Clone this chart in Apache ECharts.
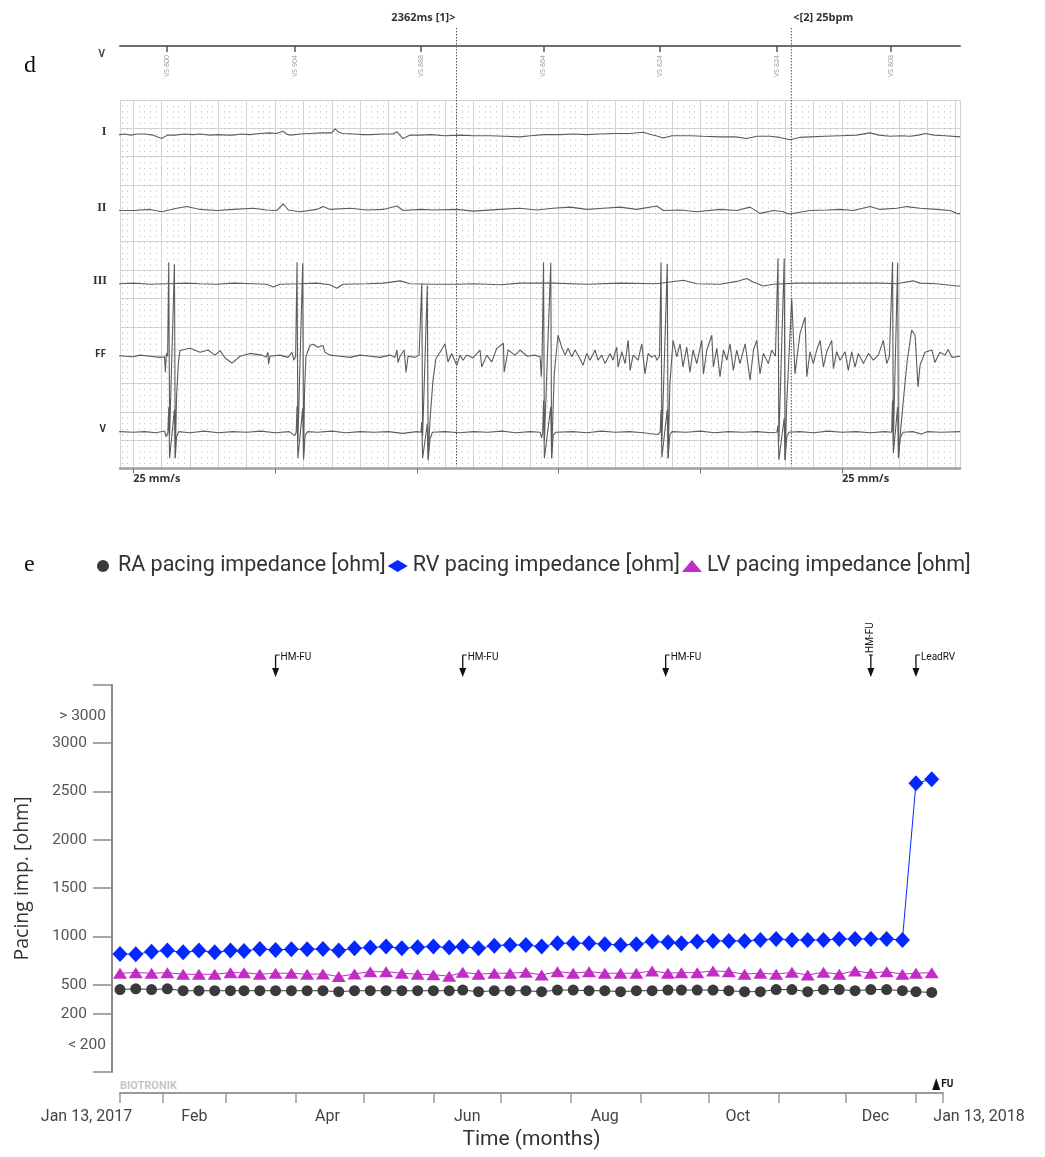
<!DOCTYPE html>
<html><head><meta charset="utf-8">
<script src="https://cdn.jsdelivr.net/npm/echarts@6/dist/echarts.min.js"></script>
<style>html,body{margin:0;padding:0;background:#fff}#c{width:1045px;height:1157px}</style>
</head><body><div id="c"></div>
<script>
// ================= Panel d : EGM strip (time in ms, amplitude in mm on paper) =================
const traceI = [[-150,0],[-150,5.1],[-129,5.1],[-129,-0.2],[-94,0.1],[-59,0.2],[-20,0],[30,0.2],[83,0.2],[140,0],[200,-0.6],[240,0],[294,0],[360,0.2],[420,0.1],[471,0.2],[540,0],[600,0.1],[660,0],[703,0],[760,0.2],[820,0.1],[893,0.3],[960,0.4],[1010,0.3],[1056,0.7],[1080,0.2],[1106,0],[1180,0.2],[1247,0.3],[1330,0.4],[1400,0.4],[1423,1.1],[1450,0.5],[1479,0.3],[1560,0.2],[1620,0.1],[1670,0.1],[1760,0.2],[1830,0.2],[1860,0.6],[1880,0],[1903,-0.6],[1950,0],[2023,0],[2100,0.1],[2200,-0.1],[2305,0],[2400,-0.1],[2517,-0.1],[2620,-0.2],[2728,-0.3],[2800,-0.1],[2900,0.1],[3010,0.1],[3100,0.2],[3200,0.1],[3292,0.2],[3400,0.3],[3500,0.3],[3596,0.5],[3650,0.1],[3700,-0.2],[3737,-0.5],[3800,-0.1],[3927,-0.1],[4020,-0.2],[4139,-0.3],[4250,-0.3],[4327,-0.6],[4400,-0.2],[4492,-0.2],[4560,-0.4],[4633,-0.8],[4700,-0.4],[4774,-0.3],[4880,-0.2],[4986,-0.1],[5100,0],[5198,0.4],[5260,0],[5339,-0.2],[5420,-0.1],[5480,-0.2],[5540,0],[5585,0.3],[5650,0],[5727,-0.1],[5832,-0.3]];
const traceII = [[-152,0.1],[-152,4.95],[-122,4.95],[-122,0.1],[-94,-0.1],[0,-0.1],[118,0.1],[200,-0.3],[306,0.3],[377,0.6],[471,0.1],[588,-0.1],[706,0.1],[847,0.3],[941,0],[1012,-0.1],[1058,1.1],[1094,0],[1176,-0.3],[1294,0.1],[1340,0.6],[1388,0.1],[1529,0.3],[1647,0],[1764,0.1],[1858,0.7],[1905,-0.1],[2023,0.1],[2117,0],[2282,0.1],[2399,-0.2],[2587,0.1],[2728,0.3],[2846,0],[2961,0.3],[3081,0.5],[3199,0.1],[3316,0.3],[3434,0.5],[3551,0.1],[3693,0.7],[3739,-0.1],[3857,0],[3975,-0.3],[4139,0.1],[4257,-0.1],[4351,0.5],[4421,-0.6],[4515,-0.1],[4586,-0.3],[4610,-0.6],[4633,-0.7],[4680,-0.5],[4774,-0.1],[4892,0],[4986,0.1],[5080,-0.1],[5197,0.6],[5268,0.1],[5386,0.3],[5456,0.6],[5550,0.3],[5668,0.1],[5762,-0.1],[5820,-0.7],[5832,-0.6]];
const traceIII = [[-152,0],[-152,5.0],[-117,5.0],[-117,0],[-94,0],[0,0.1],[118,-0.1],[236,0],[377,0.1],[471,0],[588,-0.1],[706,0.1],[847,0],[941,-0.1],[988,-0.6],[1035,-0.1],[1176,0],[1294,0.1],[1388,-0.2],[1435,-0.8],[1479,-0.1],[1647,0],[1764,0.1],[1882,0.5],[1952,0],[2117,-0.1],[2282,-0.1],[2399,0],[2587,-0.2],[2728,0.1],[2961,0.1],[3199,-0.1],[3434,0.1],[3693,0],[3880,0.6],[3975,0],[4139,-0.1],[4257,0.4],[4328,0.9],[4372,0.3],[4445,-0.4],[4515,-0.1],[4680,0.1],[4892,0.1],[5080,0.1],[5268,0.1],[5386,0],[5501,0.5],[5550,0.1],[5668,0],[5809,-0.4],[5832,-0.4]];
const traceFF = [[-160,0],[-145,0.5],[-130,0],[-94,0.1],[-60,0],[0,-0.1],[47,0.2],[118,0],[188,-0.2],[220,-0.1],[226,-2.8],[233,0.5],[242,0],
[250,16.6],[256,-14],[290,16.2],[296,-18],[305,-7],[318,-1],[329,1.0],
[400,1.4],[471,0.7],[527,1.1],[576,0.2],[612,1.0],[647,-0.3],[696,-1.2],[753,0],[823,0.5],[908,0.2],[936,-0.2],[950,0.7],[954,-1.4],[964,0],[1035,0.2],[1091,-0.2],[1119,0.7],[1133,-0.7],[1145,0],
[1155,16.6],[1161,-15],[1195,16.4],[1201,-18],[1208,-6],[1218,0],
[1246,1.9],[1268,2.1],[1303,1.6],[1338,1.9],[1352,0.7],[1388,0.2],[1458,0],[1529,-0.2],[1599,0.2],[1670,0],[1740,-0.2],[1811,0.2],[1846,-0.2],[1860,1.1],[1867,-1.1],[1882,0],[1910,1.1],[1924,-2.8],[1938,0],[1987,-0.2],[2016,0.2],[2029,0],
[2035,12.8],[2041,-14],[2074,12.5],[2080,-18],[2093,-11.3],[2114,-4.2],[2135,-0.4],[2164,0.7],
[2199,2.2],[2220,-1.0],[2246,0.5],[2282,-1.6],[2305,0.2],[2326,-0.7],[2352,0.2],[2397,-0.3],[2446,1.1],[2458,-1.9],[2493,0.2],[2529,-1.0],[2564,1.4],[2611,2.3],[2616,-2.8],[2644,1.1],[2693,0.2],[2728,1.1],[2780,0],[2830,0.2],[2870,-0.1],
[2878,-3.6],[2884,0],[2894,16.6],[2900,-15],[2945,16.5],[2951,-18],[2960,-10],[2970,-3],[2996,3.7],
[3022,1.6],[3046,0.2],[3067,1.4],[3093,-0.1],[3116,1.1],[3151,-0.4],[3172,-1.6],[3199,0.5],[3222,-0.7],[3257,1.1],[3278,-0.7],[3305,0.2],[3328,-1.3],[3363,0.5],[3384,-0.7],[3410,1.6],[3420,-1.9],[3446,0.8],[3469,-1.3],[3491,2.8],[3505,-2.5],[3526,0.2],[3561,-0.7],[3587,2.2],[3610,-3.1],[3632,0.5],[3657,-0.2],[3681,0.2],[3693,-0.7],[3712,0],
[3723,16.6],[3729,-15],[3767,16.3],[3773,-18],[3785,-5],[3808,2.8],
[3834,-0.1],[3857,2.2],[3878,-1.9],[3904,1.6],[3927,-2.8],[3949,1.1],[3975,-1.3],[4010,2.8],[4022,-3.1],[4046,1.1],[4081,3.7],[4092,-1.9],[4116,1.4],[4139,-3.6],[4163,1.1],[4187,-0.7],[4210,2.2],[4233,-2.5],[4257,1.1],[4280,-1.3],[4316,2.2],[4351,-4.2],[4375,1.1],[4398,2.8],[4421,-3.1],[4445,0.5],[4480,-1.3],[4504,1.1],[4530,0],
[4548,17.3],[4554,-15],[4592,17.3],[4598,-18.3],[4610,-8],
[4645,10.2],[4668,-3.1],[4703,4.0],[4739,6.9],[4751,-3.6],[4774,0.8],[4797,-1.3],[4821,1.1],[4845,2.8],[4868,-1.9],[4892,0.8],[4927,2.8],[4939,-2.2],[4962,0.8],[4986,-0.7],[5021,0.8],[5044,-2.5],[5068,0.8],[5092,-1.9],[5115,0.5],[5151,-1.3],[5186,0.5],[5221,-0.7],[5256,0.2],[5291,2.8],[5315,-1.3],[5334,0],
[5356,16.6],[5362,-15],[5392,16.5],[5398,-18],[5410,-14],
[5432,-7.8],[5460,-0.7],[5491,4.6],[5515,3.7],[5536,-5.4],[5550,-1.6],[5585,0.7],[5634,1.1],[5655,-1.1],[5690,0.7],[5727,0.2],[5748,1.2],[5776,-0.2],[5832,0]];
const traceV = [[-160,0],[-145,0.4],[-130,0],[-94,0.1],[0,0],[80,0.1],[160,-0.1],[220,0.2],[232,-0.8],[244,0],[250,4.4],[256,-4.6],[290,4.0],[296,-4.5],[305,-0.8],[320,0.1],[400,-0.1],[500,0.2],[600,-0.1],[700,0.1],[800,0],[900,0.2],[1000,-0.1],[1100,0.1],[1140,-0.6],[1149,0],[1155,4.6],[1161,-4.6],[1195,4.2],[1201,-4.8],[1212,-0.5],[1230,0.1],[1300,0],[1400,0.2],[1500,-0.1],[1600,0.1],[1700,0],[1800,0.1],[1900,-0.2],[2000,0.1],[2029,0],[2035,1.8],[2041,-4.6],[2074,1.5],[2080,-5.0],[2093,-1.2],[2110,0],[2200,0.1],[2300,-0.1],[2400,0.1],[2500,0],[2600,0.2],[2700,-0.1],[2800,0.1],[2870,0],[2880,-1.0],[2888,0],[2894,5.6],[2900,-4.6],[2945,4.5],[2951,-4.6],[2962,-0.5],[2980,0],[3100,0.1],[3200,-0.1],[3300,0.2],[3400,0],[3500,0.1],[3600,-0.1],[3700,-0.4],[3717,0],[3723,3.9],[3729,-4.4],[3767,4.0],[3773,-4.6],[3785,-0.5],[3800,0.1],[3900,0],[4000,0.2],[4100,-0.1],[4200,0.1],[4300,0],[4400,0.1],[4500,-0.1],[4540,0],[4548,1.2],[4554,-4.9],[4592,2.5],[4598,-4.9],[4610,-0.8],[4625,0],[4700,0.1],[4800,-0.1],[4900,0.2],[5000,0],[5100,0.1],[5200,-0.1],[5300,0.1],[5350,0],[5356,5.6],[5362,-3.7],[5392,4.5],[5398,-4.4],[5410,-1],[5430,0],[5500,0.1],[5560,-0.3],[5600,0.1],[5700,0],[5832,0.1]];
const channelNames = ['I','II','III','FF','V'];
const vsEventTimes = [236, 1141, 2030, 2892, 3716, 4539, 5345];
const vsEventLabels = ['VS 800','VS 904','VS 888','VS 864','VS 824','VS 824','VS 808'];
const caliperTimes = [2280, 4642];
const secondTicks = [0, 1000, 2000, 3000, 4000, 5000];
const speedLabelTimes = [0, 5000];
const speedLabel = '25 mm/s';

// ================= Panel e : pacing impedance trend =================
const startDate = '2017-01-13';
const endDate = '2018-01-13';
const sampleDays = [0,7,14,21,28,35,42,49,55,62,69,76,83,90,97,104,111,118,125,132,139,146,152,159,166,173,180,187,194,201,208,215,222,229,236,243,249,256,263,270,277,284,291,298,305,312,319,326,333,340,347,353,360];
const raImpedance = [452,460,452,460,440,440,440,440,440,440,440,440,440, 440,430,440,440,440,440,440,440,440,447,430,440,440, 440,430,447,447,440,440,430,440,440,447,447,447,447, 440,430,430,452,452,430,452,452,440,452,452,440,430,422];
const rvImpedance = [820,817,844,855,838,855,838,855,851,872,862,869,869, 872,855,879,886,896,879,890,896,886,896,879,906,913, 913,896,931,931,931,921,913,921,948,941,931,948,955, 955,955,965,975,965,965,965,975,975,975,975,965, 2585,2626];
const lvImpedance = [621,627,621,627,610,610,610,627,627,610,621,621,610, 614,586,614,637,637,621,611,606,590,631,611,621,621, 631,603,637,621,637,621,621,621,645,621,627,627,645, 637,611,621,611,631,603,631,611,645,621,637,611,621,627];
const seriesNames = ['RA pacing impedance [ohm]','RV pacing impedance [ohm]','LV pacing impedance [ohm]'];
const yTickValues = [200,500,1000,1500,2000,2500,3000];
const yRangeLabels = [[3280,'> 3000'],[-120,'< 200']];
const monthTickDates = ['2017-01-13','2017-02-01','2017-03-01','2017-04-01','2017-05-01','2017-06-01','2017-07-01','2017-08-01','2017-09-01','2017-10-01','2017-11-01','2017-12-01','2018-01-01','2018-01-13'];
const xLabels = [['2017-01-13','Jan 13, 2017'],['2017-02-15','Feb'],['2017-04-15','Apr'],['2017-06-16','Jun'],['2017-08-16','Aug'],['2017-10-14','Oct'],['2017-12-14','Dec'],['2018-01-13','Jan 13, 2018']];
const events = [['2017-03-23','HM-FU'],['2017-06-14','HM-FU'],['2017-09-12','HM-FU'],['2017-12-12','HM-FU'],['2018-01-01','LeadRV']];
const followUps = [['2018-01-10','FU']];

// ---------------- helpers / layout ----------------
const DAY = 86400000;
const ts = s => Date.parse(s + 'T00:00:00Z');
const t0 = ts(startDate), t1 = ts(endDate);
const channelBaseMm = [58.8, 45.6, 32.6, 19.8, 6.4];
const traces = [traceI, traceII, traceIII, traceFF, traceV];
const COND = 'Roboto, "Liberation Sans", sans-serif';
const xLabelMap = {}; xLabels.forEach(([d, s]) => xLabelMap[ts(d)] = s);
const yRangeMap = {}; yRangeLabels.forEach(([v, s]) => yRangeMap[v] = s);
const eventTs = events.map(e => ts(e[0]));
const caliperDiff = caliperTimes[1] - caliperTimes[0];
const caliperTexts = [caliperDiff + 'ms [1]>', '<[2] ' + Math.round(60000 / caliperDiff) + 'bpm'];

const chart = echarts.init(document.getElementById('c'), null, {renderer: 'canvas'});

const ecgSeries = traces.map((tr, i) => ({
  name: channelNames[i], type: 'line', xAxisIndex: 0, yAxisIndex: 0,
  data: tr.map(p => [p[0], channelBaseMm[i] + p[1]]),
  showSymbol: false, symbol: 'none', clip: false, silent: true,
  lineStyle: {color: '#5c5c5c', width: 1.1}, z: 5
}));

const trendStyles = [
  {symbol: 'circle', symbolSize: 11, color: '#3a3a3a'},
  {symbol: 'diamond', symbolSize: [15, 16], color: '#0527ff'},
  {symbol: 'triangle', symbolSize: [14, 11], color: '#c22cc6'}
];
const trendData = [raImpedance, rvImpedance, lvImpedance];
const trendSeries = trendData.map((vals, i) => ({
  name: seriesNames[i], type: 'line', xAxisIndex: 3, yAxisIndex: 1,
  data: vals.map((v, k) => [t0 + sampleDays[k] * DAY, v]),
  symbol: trendStyles[i].symbol, symbolSize: trendStyles[i].symbolSize, showAllSymbol: true,
  itemStyle: {color: trendStyles[i].color}, lineStyle: {color: trendStyles[i].color, width: 1},
  z: 4 + i
}));

const option = {
  animation: false,
  backgroundColor: '#ffffff',
  grid: [
    {left: 120, top: 100, width: 840, height: 368.5},
    {left: 120, top: 685, width: 823, height: 387}
  ],
  legend: {
    left: 92, top: 550, itemWidth: 20, itemHeight: 12, itemGap: 2,
    data: [{name: seriesNames[0], icon: 'circle'}, {name: seriesNames[1], icon: 'diamond'}, {name: seriesNames[2], icon: 'triangle'}],
    textStyle: {fontFamily: COND, fontSize: 21.5, color: '#333'}
  },
  xAxis: [
    { // paper grid
      type: 'value', gridIndex: 0, min: -94, max: 5832, splitNumber: 30, minInterval: 200, maxInterval: 200,
      axisLine: {show: false, onZero: false}, axisTick: {show: false}, axisLabel: {show: false},
      splitLine: {show: true, lineStyle: {color: '#d4d4d4', width: 1}},
      minorTick: {show: false, splitNumber: 5},
      minorSplitLine: {show: true, lineStyle: {color: '#b8b8b8', width: 1, type: [1, 4.67]}}
    },
    { // bottom time axis of strip
      type: 'value', gridIndex: 0, min: -94, max: 5832, position: 'bottom',
      axisLine: {show: true, onZero: false, lineStyle: {color: '#a0a0a0', width: 2.5}},
      axisTick: {show: true, customValues: secondTicks, length: 5, lineStyle: {color: '#777', width: 1}},
      axisLabel: {show: true, customValues: speedLabelTimes, formatter: () => speedLabel, align: 'left', margin: 5,
        fontFamily: '"Open Sans", sans-serif', fontWeight: 'bold', fontSize: 11, color: '#333'},
      splitLine: {show: false}
    },
    { // top ventricular marker axis
      type: 'value', gridIndex: 0, min: -94, max: 5832, position: 'top', offset: 54,
      axisLine: {show: true, onZero: false, lineStyle: {color: '#6e6e6e', width: 2}},
      axisTick: {show: true, inside: true, customValues: vsEventTimes, length: 6, lineStyle: {color: '#555', width: 1.5}},
      axisLabel: {show: true, inside: true, customValues: vsEventTimes, rotate: -90, margin: 9,
        formatter: v => vsEventLabels[vsEventTimes.indexOf(v)] || '',
        fontFamily: '"Open Sans", sans-serif', fontSize: 7, color: '#999'},
      splitLine: {show: false}
    },
    { // trend time axis (timestamps, ms)
      type: 'value', gridIndex: 1, min: t0, max: t1, offset: 21,
      axisLine: {show: true, onZero: false, lineStyle: {color: '#9a9a9a', width: 2}},
      axisTick: {show: true, customValues: monthTickDates.map(ts), length: 10, lineStyle: {color: '#9a9a9a', width: 1.5}},
      axisLabel: {show: true, customValues: xLabels.map(l => ts(l[0])), hideOverlap: false, margin: 16,
        formatter: v => {
          const s = xLabelMap[v] || '';
          if (v === t0) return '{a|' + s + '}';
          if (v === t1) return '{b|' + s + '}';
          return s;
        },
        fontFamily: COND, fontSize: 16, color: '#444',
        rich: {
          a: {fontFamily: COND, fontSize: 16, color: '#444', padding: [0, 67, 0, 0]},
          b: {fontFamily: COND, fontSize: 16, color: '#444', padding: [0, 0, 0, 72]}
        }},
      splitLine: {show: false},
      name: 'Time (months)', nameLocation: 'middle', nameGap: 36,
      nameTextStyle: {fontFamily: COND, fontSize: 21, color: '#333'}
    }
  ],
  yAxis: [
    { // paper grid
      type: 'value', gridIndex: 0, min: 0, max: 65, interval: 5,
      axisLine: {show: false}, axisTick: {show: false}, axisLabel: {show: false},
      splitLine: {show: true, lineStyle: {color: '#d4d4d4', width: 1}}
    },
    { // impedance
      type: 'value', gridIndex: 1, min: -400, max: 3600, offset: 8, position: 'left',
      axisLine: {show: true, onZero: false, lineStyle: {color: '#8a8a8a', width: 2}},
      axisTick: {show: true, customValues: [-400].concat(yTickValues, [3600]), length: 19, lineStyle: {color: '#8a8a8a', width: 1.5}},
      axisLabel: {show: true, customValues: yTickValues, margin: 25, formatter: v => String(v),
        fontFamily: COND, fontSize: 15.5, color: '#555'},
      splitLine: {show: false},
      name: 'Pacing imp. [ohm]', nameLocation: 'middle', nameGap: 80,
      nameTextStyle: {fontFamily: '"Open Sans", sans-serif', fontSize: 19.5, color: '#333'}
    },
    { // out-of-range labels
      type: 'value', gridIndex: 1, min: -400, max: 3600, offset: 8, position: 'left',
      axisLine: {show: false, onZero: false}, axisTick: {show: false},
      axisLabel: {show: true, customValues: yRangeLabels.map(r => r[0]), margin: 6, formatter: v => yRangeMap[v] || '',
        fontFamily: COND, fontSize: 15.5, color: '#555'},
      splitLine: {show: false}
    }
  ],
  series: [
    ...ecgSeries,
    {
      type: 'custom', name: 'calipers', xAxisIndex: 0, yAxisIndex: 0, clip: false, silent: true, z: 8,
      data: caliperTimes.map(t => [t, 0]),
      renderItem: (params, api) => {
        const x = api.coord([api.value(0), 0])[0];
        const cs = params.coordSys;
        const first = params.dataIndex === 0;
        return {type: 'group', children: [
          {type: 'line', shape: {x1: x, y1: cs.y - 72, x2: x, y2: cs.y + cs.height - 2},
            style: {stroke: '#555', lineWidth: 1, lineDash: [1.5, 1.5]}},
          {type: 'text', x: first ? x - 1 : x + 2, y: cs.y - 82,
            style: {text: caliperTexts[params.dataIndex], align: first ? 'right' : 'left', verticalAlign: 'middle',
              fontFamily: '"Open Sans", sans-serif', fontWeight: 'bold', fontSize: 11, fill: '#333'}}
        ]};
      }
    },
    ...trendSeries,
    {
      type: 'custom', name: 'events', xAxisIndex: 3, yAxisIndex: 1, clip: false, silent: true, z: 8,
      data: eventTs.map(t => [t, 0]),
      renderItem: (params, api) => {
        const i = params.dataIndex;
        const x = api.coord([api.value(0), 0])[0];
        const top = params.coordSys.y;
        const nx = i + 1 < eventTs.length ? api.coord([eventTs[i + 1], 0])[0] : Infinity;
        const vertical = nx - x < 60;
        const kids = [
          {type: 'line', shape: {x1: x, y1: top - 30, x2: x, y2: top - 12}, style: {stroke: '#111', lineWidth: 1.3}},
          {type: 'polygon', shape: {points: [[x - 3.5, top - 17], [x + 3.5, top - 17], [x, top - 8]]}, style: {fill: '#111'}}
        ];
        if (vertical) {
          kids.push({type: 'line', shape: {x1: x - 2, y1: top - 30, x2: x + 2, y2: top - 30}, style: {stroke: '#111', lineWidth: 1}});
          kids.push({type: 'text', x: x, y: top - 32, rotation: Math.PI / 2,
            style: {text: events[i][1], align: 'left', verticalAlign: 'middle', fontFamily: COND, fontSize: 10, fill: '#111'}});
        } else {
          kids.push({type: 'line', shape: {x1: x, y1: top - 30, x2: x + 4, y2: top - 30}, style: {stroke: '#111', lineWidth: 1}});
          kids.push({type: 'text', x: x + 5, y: top - 28,
            style: {text: events[i][1], align: 'left', verticalAlign: 'middle', fontFamily: COND, fontSize: 10, fill: '#111'}});
        }
        return {type: 'group', children: kids};
      }
    },
    {
      type: 'custom', name: 'followup', xAxisIndex: 3, yAxisIndex: 1, clip: false, silent: true, z: 8,
      data: followUps.map(f => [ts(f[0]), 0]),
      renderItem: (params, api) => {
        const x = api.coord([api.value(0), 0])[0];
        const axisY = params.coordSys.y + params.coordSys.height + 21;
        return {type: 'group', children: [
          {type: 'polygon', shape: {points: [[x - 4, axisY - 3], [x + 4, axisY - 3], [x, axisY - 15]]}, style: {fill: '#111'}},
          {type: 'text', x: x + 5, y: axisY - 9, style: {text: followUps[params.dataIndex][1], align: 'left', verticalAlign: 'middle',
            fontFamily: COND, fontWeight: 'bold', fontSize: 10, fill: '#111'}}
        ]};
      }
    }
  ],
  graphic: [
    {type: 'text', x: 24, y: 66, style: {text: 'd', fontFamily: '"Liberation Serif", serif', fontSize: 24, fill: '#111', verticalAlign: 'middle'}},
    {type: 'text', x: 24, y: 565, style: {text: 'e', fontFamily: '"Liberation Serif", serif', fontSize: 24, fill: '#111', verticalAlign: 'middle'}},
    {type: 'text', x: 105, y: 54, style: {text: 'V', align: 'right', verticalAlign: 'middle', fontFamily: '"Open Sans", sans-serif', fontWeight: 'bold', fontSize: 10, fill: '#444'}},
    {type: 'text', x: 106.5, y: 132, style: {text: 'I', align: 'right', verticalAlign: 'middle', fontFamily: '"Liberation Serif", serif', fontWeight: 'bold', fontSize: 12, fill: '#333'}},
    {type: 'text', x: 106.5, y: 207.5, style: {text: 'II', align: 'right', verticalAlign: 'middle', fontFamily: '"Liberation Serif", serif', fontWeight: 'bold', fontSize: 12, fill: '#333'}},
    {type: 'text', x: 107, y: 281, style: {text: 'III', align: 'right', verticalAlign: 'middle', fontFamily: '"Liberation Serif", serif', fontWeight: 'bold', fontSize: 12, fill: '#333'}},
    {type: 'text', x: 106, y: 354, style: {text: 'FF', align: 'right', verticalAlign: 'middle', fontFamily: '"Open Sans", sans-serif', fontWeight: 'bold', fontSize: 10, fill: '#333'}},
    {type: 'text', x: 106, y: 429.5, style: {text: 'V', align: 'right', verticalAlign: 'middle', fontFamily: '"Open Sans", sans-serif', fontWeight: 'bold', fontSize: 10, fill: '#333'}},
    {type: 'text', x: 120, y: 1086, style: {text: 'BIOTRONIK', align: 'left', verticalAlign: 'middle', fontFamily: COND, fontWeight: 'bold', fontSize: 11, fill: '#c4c4c4'}}
  ]
};
chart.setOption(option);
</script>
</body></html>
